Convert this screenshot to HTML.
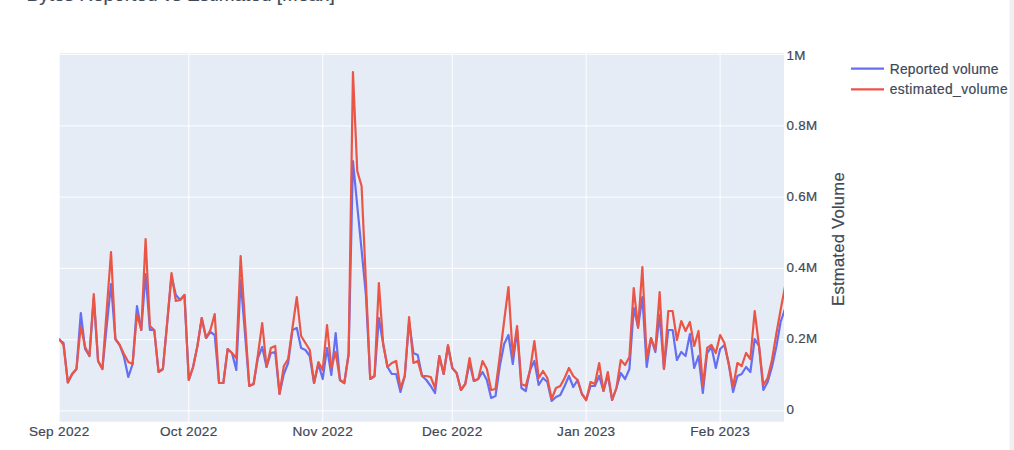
<!DOCTYPE html>
<html><head><meta charset="utf-8"><style>
html,body{margin:0;padding:0;background:#fff;width:1014px;height:450px;overflow:hidden;position:relative}
</style></head><body>
<svg width="1014" height="450" viewBox="0 0 1014 450" style="position:absolute;left:0;top:0">
<rect x="59.2" y="53.2" width="724.80" height="368.50" fill="#e5ecf6"/>
<line x1="59.20" y1="53.2" x2="59.20" y2="421.7" stroke="#ffffff" stroke-opacity="0.8" stroke-width="1.2"/>
<line x1="188.79" y1="53.2" x2="188.79" y2="421.7" stroke="#ffffff" stroke-opacity="0.8" stroke-width="1.2"/>
<line x1="322.71" y1="53.2" x2="322.71" y2="421.7" stroke="#ffffff" stroke-opacity="0.8" stroke-width="1.2"/>
<line x1="452.30" y1="53.2" x2="452.30" y2="421.7" stroke="#ffffff" stroke-opacity="0.8" stroke-width="1.2"/>
<line x1="586.22" y1="53.2" x2="586.22" y2="421.7" stroke="#ffffff" stroke-opacity="0.8" stroke-width="1.2"/>
<line x1="720.13" y1="53.2" x2="720.13" y2="421.7" stroke="#ffffff" stroke-opacity="0.8" stroke-width="1.2"/>
<line x1="59.2" y1="410.90" x2="784.0" y2="410.90" stroke="#ffffff" stroke-opacity="0.8" stroke-width="1.2"/>
<line x1="59.2" y1="339.62" x2="784.0" y2="339.62" stroke="#ffffff" stroke-opacity="0.8" stroke-width="1.2"/>
<line x1="59.2" y1="268.34" x2="784.0" y2="268.34" stroke="#ffffff" stroke-opacity="0.8" stroke-width="1.2"/>
<line x1="59.2" y1="197.06" x2="784.0" y2="197.06" stroke="#ffffff" stroke-opacity="0.8" stroke-width="1.2"/>
<line x1="59.2" y1="125.78" x2="784.0" y2="125.78" stroke="#ffffff" stroke-opacity="0.8" stroke-width="1.2"/>
<line x1="59.2" y1="54.50" x2="784.0" y2="54.50" stroke="#ffffff" stroke-opacity="0.8" stroke-width="1.2"/>
<defs><clipPath id="cp"><rect x="59.2" y="53.2" width="724.80" height="368.50"/></clipPath></defs><g clip-path="url(#cp)">
<path d="M59.20,340.0L63.52,343.0L67.84,382.5L72.16,374.0L76.48,369.0L80.80,313.0L85.12,349.0L89.44,356.0L93.76,298.0L98.08,361.0L102.40,369.0L106.72,326.0L111.04,284.0L115.36,339.0L119.68,345.0L124.00,357.0L128.32,377.0L132.64,364.0L136.96,306.0L141.28,330.0L145.60,274.0L149.92,330.0L154.24,330.0L158.56,372.0L162.88,369.0L167.19,323.0L171.51,276.0L175.83,295.0L180.15,300.0L184.47,295.0L188.79,380.0L193.11,367.0L197.43,346.0L201.75,318.0L206.07,338.0L210.39,332.0L214.71,335.0L219.03,383.0L223.35,383.0L227.67,349.0L231.99,353.0L236.31,370.0L240.63,280.0L244.95,333.0L249.27,386.0L253.59,384.0L257.91,358.0L262.23,347.0L266.55,367.0L270.87,353.0L275.19,352.0L279.51,394.0L283.83,374.0L288.15,363.0L292.47,330.0L296.79,328.0L301.11,348.0L305.43,350.0L309.75,356.0L314.07,383.0L318.39,364.0L322.71,379.0L327.03,348.0L331.35,375.0L335.67,333.0L339.99,380.0L344.31,383.0L348.63,354.0L352.95,161.0L357.27,206.0L361.59,250.0L365.91,295.0L370.23,379.0L374.55,376.0L378.87,318.0L383.19,344.0L387.50,367.0L391.82,374.0L396.14,374.0L400.46,392.0L404.78,376.0L409.10,322.0L413.42,353.0L417.74,355.0L422.06,376.0L426.38,380.0L430.70,386.0L435.02,393.0L439.34,356.0L443.66,374.0L447.98,346.0L452.30,368.0L456.62,373.0L460.94,390.0L465.26,384.0L469.58,363.0L473.90,381.0L478.22,379.0L482.54,372.0L486.86,380.0L491.18,398.0L495.50,396.0L499.82,366.0L504.14,344.0L508.46,335.0L512.78,364.0L517.10,330.0L521.42,388.0L525.74,391.0L530.06,370.0L534.38,361.0L538.70,385.0L543.02,378.0L547.34,382.0L551.66,401.0L555.98,397.0L560.30,395.0L564.62,386.0L568.94,376.0L573.26,387.0L577.58,380.0L581.90,394.0L586.22,400.0L590.54,386.0L594.86,386.0L599.18,376.0L603.49,391.0L607.81,375.0L612.13,400.0L616.45,388.0L620.77,373.0L625.09,379.0L629.41,369.0L633.73,308.0L638.05,327.0L642.37,297.0L646.69,367.0L651.01,338.0L655.33,352.0L659.65,315.0L663.97,369.0L668.29,330.0L672.61,330.0L676.93,360.0L681.25,352.0L685.57,356.0L689.89,334.0L694.21,368.0L698.53,356.0L702.85,393.0L707.17,353.0L711.49,347.0L715.81,368.0L720.13,349.0L724.45,345.0L728.77,364.0L733.09,392.0L737.41,376.0L741.73,374.0L746.05,367.0L750.37,372.0L754.69,339.0L759.01,346.0L763.33,390.0L767.65,382.0L771.97,367.0L776.29,347.0L780.61,322.0L784.93,309.0" fill="none" stroke="#666ef2" stroke-width="2.2" stroke-linejoin="round" stroke-linecap="round"/>
<path d="M59.20,339.0L63.52,345.0L67.84,382.5L72.16,374.0L76.48,369.0L80.80,326.0L85.12,347.0L89.44,356.0L93.76,294.0L98.08,361.0L102.40,369.0L106.72,310.0L111.04,252.0L115.36,339.0L119.68,345.0L124.00,354.0L128.32,362.0L132.64,364.0L136.96,314.0L141.28,330.0L145.60,239.0L149.92,326.0L154.24,330.0L158.56,372.0L162.88,369.0L167.19,322.0L171.51,273.0L175.83,301.0L180.15,300.0L184.47,295.0L188.79,380.0L193.11,367.0L197.43,346.0L201.75,318.0L206.07,338.0L210.39,330.0L214.71,314.0L219.03,383.0L223.35,383.0L227.67,349.0L231.99,353.0L236.31,358.0L240.63,256.0L244.95,321.0L249.27,386.0L253.59,384.0L257.91,355.0L262.23,323.0L266.55,367.0L270.87,348.0L275.19,346.0L279.51,394.0L283.83,366.0L288.15,359.0L292.47,328.0L296.79,297.0L301.11,336.0L305.43,343.0L309.75,350.0L314.07,383.0L318.39,362.0L322.71,370.0L327.03,325.0L331.35,368.0L335.67,352.0L339.99,380.0L344.31,383.0L348.63,354.0L352.95,72.0L357.27,171.0L361.59,186.0L365.91,282.0L370.23,379.0L374.55,376.0L378.87,283.0L383.19,344.0L387.50,367.0L391.82,363.0L396.14,361.0L400.46,388.0L404.78,376.0L409.10,317.0L413.42,363.0L417.74,361.0L422.06,376.0L426.38,376.0L430.70,377.0L435.02,388.0L439.34,356.0L443.66,374.0L447.98,345.0L452.30,368.0L456.62,373.0L460.94,390.0L465.26,384.0L469.58,358.0L473.90,381.0L478.22,379.0L482.54,361.0L486.86,369.0L491.18,390.0L495.50,389.0L499.82,356.0L504.14,321.0L508.46,287.0L512.78,356.0L517.10,326.0L521.42,384.0L525.74,386.0L530.06,370.0L534.38,341.0L538.70,378.0L543.02,371.0L547.34,378.0L551.66,399.0L555.98,388.0L560.30,386.0L564.62,378.0L568.94,368.0L573.26,376.0L577.58,380.0L581.90,394.0L586.22,400.0L590.54,382.0L594.86,384.0L599.18,363.0L603.49,391.0L607.81,372.0L612.13,400.0L616.45,388.0L620.77,360.0L625.09,365.0L629.41,357.0L633.73,288.0L638.05,328.0L642.37,267.0L646.69,358.0L651.01,338.0L655.33,350.0L659.65,292.0L663.97,369.0L668.29,311.0L672.61,311.0L676.93,340.0L681.25,321.0L685.57,331.0L689.89,322.0L694.21,346.0L698.53,331.0L702.85,386.0L707.17,348.0L711.49,345.0L715.81,353.0L720.13,335.0L724.45,343.0L728.77,364.0L733.09,387.0L737.41,363.0L741.73,366.0L746.05,353.0L750.37,359.0L754.69,311.0L759.01,346.0L763.33,385.0L767.65,378.0L771.97,360.0L776.29,334.0L780.61,310.0L784.93,287.0" fill="none" stroke="#ea5546" stroke-width="2.2" stroke-linejoin="round" stroke-linecap="round"/>
</g>
<g stroke="#404856" stroke-width="0.2">
<text x="59.20" y="436.3" font-family='"Liberation Sans", sans-serif' font-size="13.6" letter-spacing="0.3" fill="#404856" text-anchor="middle">Sep 2022</text>
<text x="188.79" y="436.3" font-family='"Liberation Sans", sans-serif' font-size="13.6" letter-spacing="0.3" fill="#404856" text-anchor="middle">Oct 2022</text>
<text x="322.71" y="436.3" font-family='"Liberation Sans", sans-serif' font-size="13.6" letter-spacing="0.3" fill="#404856" text-anchor="middle">Nov 2022</text>
<text x="452.30" y="436.3" font-family='"Liberation Sans", sans-serif' font-size="13.6" letter-spacing="0.3" fill="#404856" text-anchor="middle">Dec 2022</text>
<text x="586.22" y="436.3" font-family='"Liberation Sans", sans-serif' font-size="13.6" letter-spacing="0.3" fill="#404856" text-anchor="middle">Jan 2023</text>
<text x="720.13" y="436.3" font-family='"Liberation Sans", sans-serif' font-size="13.6" letter-spacing="0.3" fill="#404856" text-anchor="middle">Feb 2023</text>
<text x="786.5" y="414.25" font-family='"Liberation Sans", sans-serif' font-size="13.4" letter-spacing="0.3" fill="#404856">0</text>
<text x="786.5" y="343.31" font-family='"Liberation Sans", sans-serif' font-size="13.4" letter-spacing="0.3" fill="#404856">0.2M</text>
<text x="786.5" y="272.37" font-family='"Liberation Sans", sans-serif' font-size="13.4" letter-spacing="0.3" fill="#404856">0.4M</text>
<text x="786.5" y="201.43" font-family='"Liberation Sans", sans-serif' font-size="13.4" letter-spacing="0.3" fill="#404856">0.6M</text>
<text x="786.5" y="130.49" font-family='"Liberation Sans", sans-serif' font-size="13.4" letter-spacing="0.3" fill="#404856">0.8M</text>
<text x="786.5" y="59.55" font-family='"Liberation Sans", sans-serif' font-size="13.4" letter-spacing="0.3" fill="#404856">1M</text>
<text x="0" y="0" transform="translate(843.7,239) rotate(-90)" font-family='"Liberation Sans", sans-serif' font-size="16.6" letter-spacing="0.25" fill="#404856" text-anchor="middle">Estmated Volume</text>
<line x1="851" y1="68.7" x2="884" y2="68.7" stroke="#666ef2" stroke-width="2.2"/>
<line x1="851" y1="89.3" x2="884" y2="89.3" stroke="#ea5546" stroke-width="2.2"/>
<text x="889.7" y="73.5" font-family='"Liberation Sans", sans-serif' font-size="13.8" letter-spacing="0.27" fill="#404856">Reported volume</text>
<text x="889.7" y="93.6" font-family='"Liberation Sans", sans-serif' font-size="13.8" letter-spacing="0.4" fill="#404856">estimated_volume</text>
<text x="26.5" y="0.9" font-family='"Liberation Sans", sans-serif' font-size="19" fill="#404856">Bytes Reported vs Estimated [Mean]</text>
</g>
<rect x="1009.5" y="0" width="4.5" height="450" fill="#f0f0f0"/>
</svg>
</body></html>
